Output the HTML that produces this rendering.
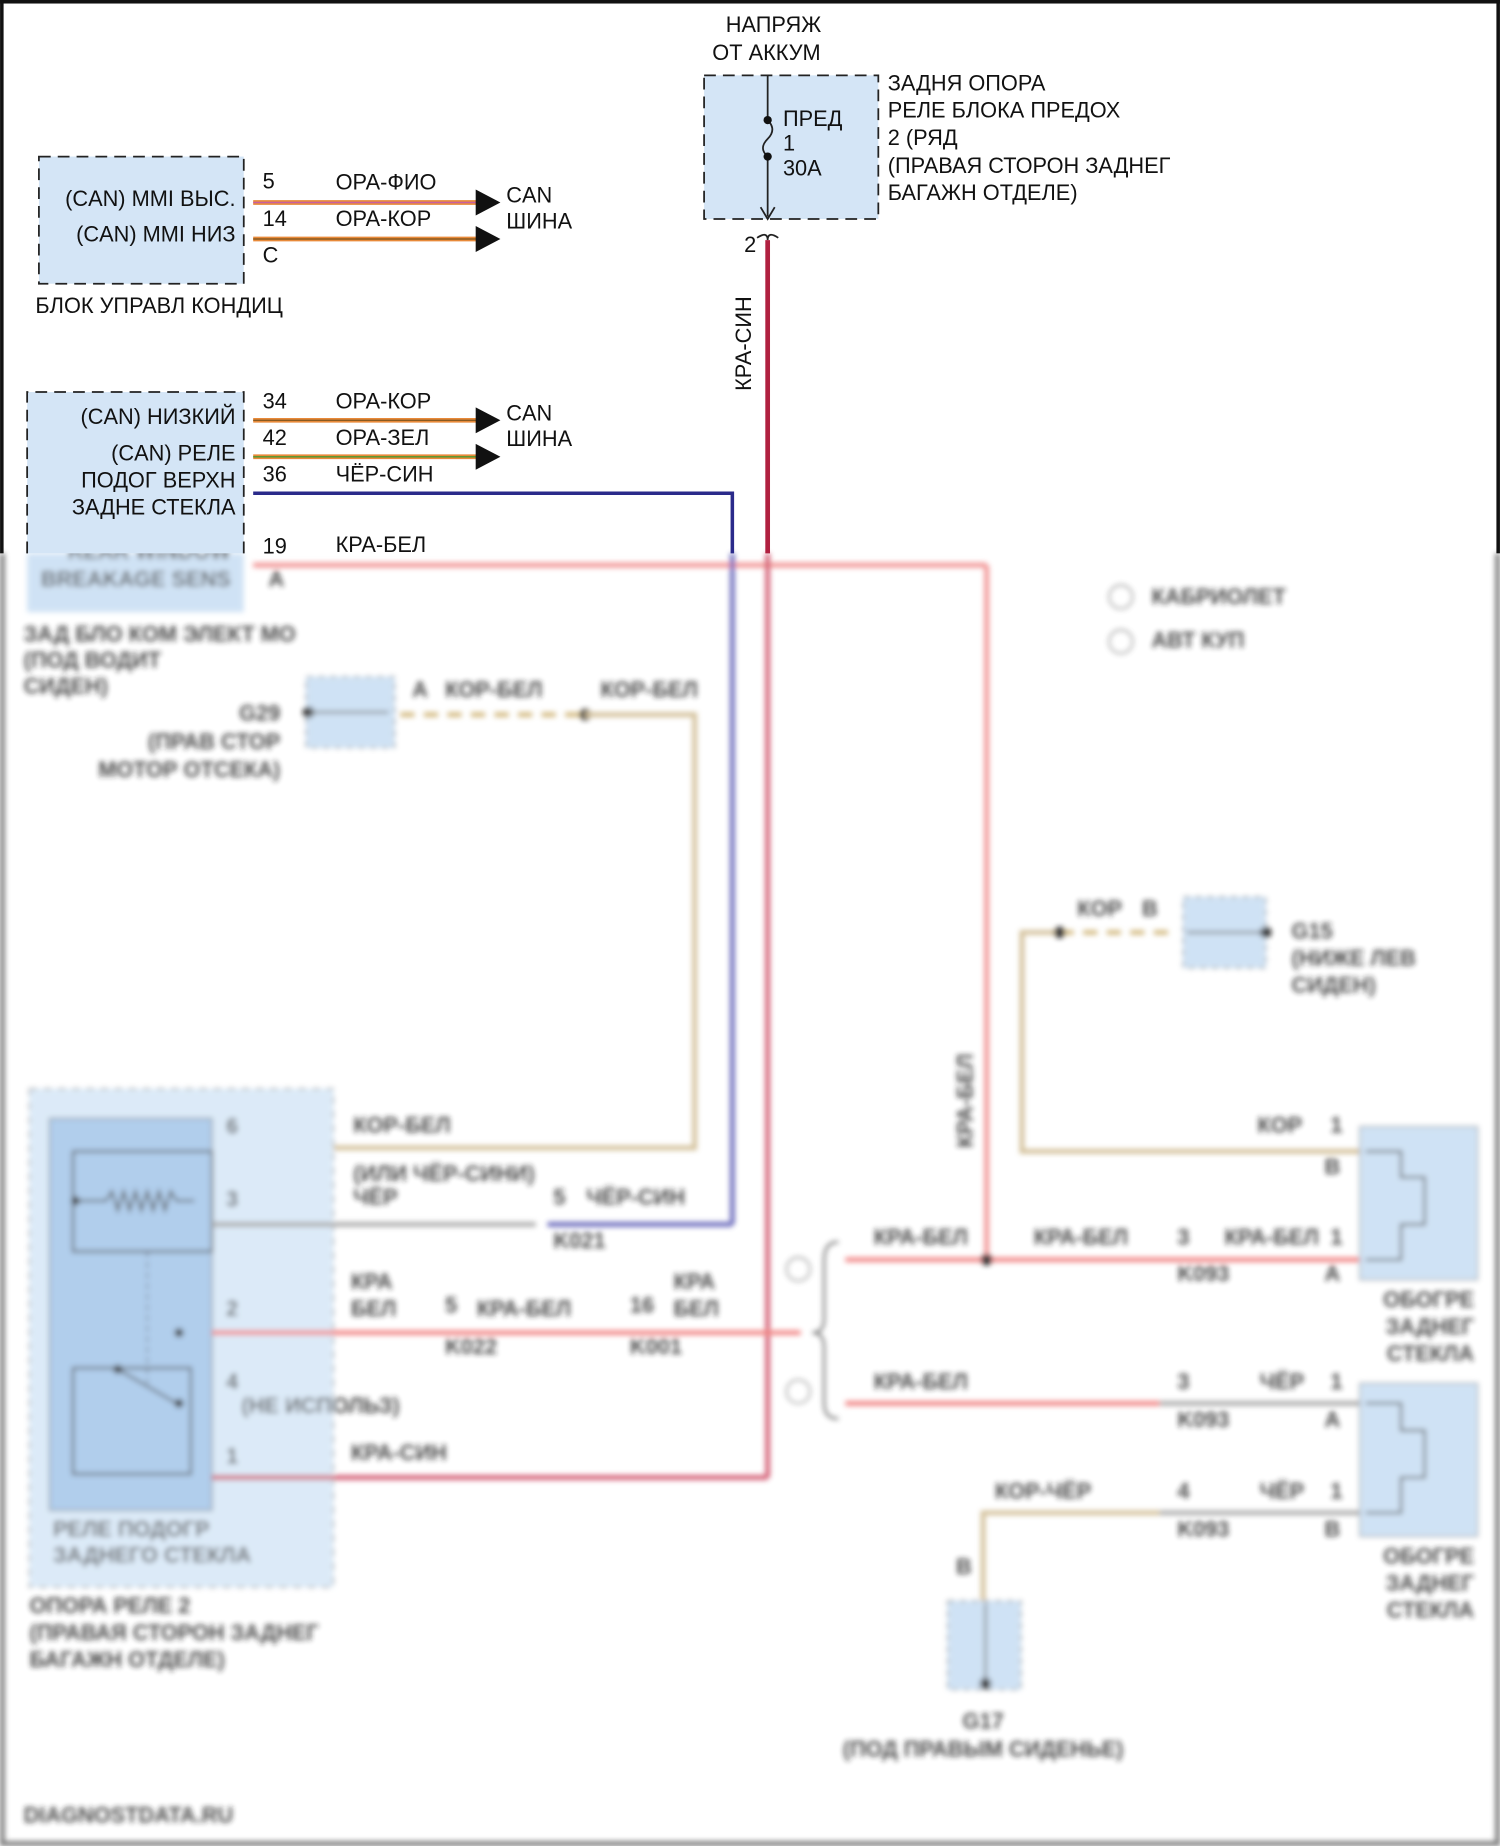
<!DOCTYPE html>
<html><head><meta charset="utf-8"><style>
html,body{margin:0;padding:0;background:#fff}
svg{display:block}
text{font-family:"Liberation Sans",sans-serif;font-size:18.5px;fill:#111}
.b text{fill:#222;font-weight:bold}
</style></head><body>
<svg width="1500" height="1846" viewBox="0 0 1274 1568" xmlns="http://www.w3.org/2000/svg">
<defs>
<filter id="bl" x="-5%" y="-5%" width="110%" height="110%"><feGaussianBlur stdDeviation="2.2"/></filter>
</defs>
<rect x="0" y="0" width="1274" height="1568" fill="#fff"/>
<g class="b" filter="url(#bl)" opacity="0.8">
<rect x="23" y="470" width="184" height="50" fill="#c4dcf3"/>
<text x="196" y="475" text-anchor="end" font-size="17">REAR WINDOW</text>
<text x="196" y="498" text-anchor="end" font-size="17">BREAKAGE SENS</text>
<text x="228" y="498" font-size="14">A</text>
<text x="20" y="545" font-size="15">ЗАД БЛО КОМ ЭЛЕКТ МО</text>
<text x="20" y="567" font-size="15">(ПОД ВОДИТ</text>
<text x="20" y="589" font-size="15">СИДЕН)</text>
<line x1="215" y1="480" x2="838" y2="480" stroke="#ee7777" stroke-width="4"/>
<line x1="838" y1="480" x2="838" y2="1070" stroke="#ee7777" stroke-width="4"/>
<line x1="622" y1="470" x2="622" y2="1040" stroke="#4444aa" stroke-width="4"/>
<line x1="652" y1="470" x2="652" y2="1255" stroke="#c83050" stroke-width="4"/>
<rect x="260" y="575" width="75" height="60" fill="#c4dcf3" stroke="#555" stroke-dasharray="6 4"/>
<circle cx="262" cy="605" r="5" fill="#111"/><line x1="262" y1="605" x2="330" y2="605" stroke="#555" stroke-width="2"/>
<text x="238" y="612" text-anchor="end" font-size="15">G29</text>
<text x="238" y="636" text-anchor="end" font-size="15">(ПРАВ СТОР</text>
<text x="238" y="660" text-anchor="end" font-size="15">МОТОР ОТСЕКА)</text>
<line x1="340" y1="607" x2="497" y2="607" stroke="#c8a860" stroke-width="4" stroke-dasharray="12 8"/>
<circle cx="497" cy="607" r="5" fill="#111"/>
<polyline points="497,607 590,607 590,975 180,975" fill="none" stroke="#c8b080" stroke-width="4"/>
<text x="378" y="592" font-size="15">КОР-БЕЛ</text><text x="510" y="592" font-size="15">КОР-БЕЛ</text>
<text x="350" y="592" font-size="14">A</text>
<text x="978" y="513" font-size="15">КАБРИОЛЕТ</text><circle cx="952" cy="507" r="10" fill="none" stroke="#555"/>
<text x="978" y="550" font-size="15">АВТ КУП</text><circle cx="952" cy="545" r="10" fill="none" stroke="#555"/>
<rect x="25" y="925" width="258" height="423" fill="#d4e6f7" stroke="#666" stroke-dasharray="7 5"/>
<rect x="42" y="950" width="138" height="333" fill="#9ec2e8" stroke="#555"/>
<rect x="62" y="978" width="118" height="85" fill="none" stroke="#333" stroke-width="2"/>
<circle cx="64" cy="1020" r="4" fill="#111"/>
<polyline points="64,1020 90,1020 95,1012 100,1028 105,1012 110,1028 115,1012 120,1028 125,1012 130,1028 135,1012 140,1028 145,1012 150,1020 165,1020" fill="none" stroke="#333" stroke-width="2"/>
<rect x="62" y="1162" width="100" height="90" fill="none" stroke="#333" stroke-width="2"/>
<line x1="100" y1="1163" x2="150" y2="1192" stroke="#333" stroke-width="2"/>
<circle cx="100" cy="1163" r="4" fill="#111"/><circle cx="152" cy="1132" r="4" fill="#111"/><circle cx="152" cy="1192" r="4" fill="#111"/>
<line x1="125" y1="1063" x2="125" y2="1175" stroke="#333" stroke-dasharray="5 4"/>
<text x="45" y="1305" font-size="15">РЕЛЕ ПОДОГР</text><text x="45" y="1327" font-size="15">ЗАДНЕГО СТЕКЛА</text>
<text x="25" y="1370" font-size="15">ОПОРА РЕЛЕ 2</text>
<text x="25" y="1393" font-size="15">(ПРАВАЯ СТОРОН ЗАДНЕГ</text>
<text x="25" y="1416" font-size="15">БАГАЖН ОТДЕЛЕ)</text>
<text x="192" y="963" font-size="14">6</text><text x="192" y="1025" font-size="14">3</text>
<text x="192" y="1118" font-size="14">2</text><text x="192" y="1180" font-size="14">4</text><text x="192" y="1243" font-size="14">1</text>
<line x1="180" y1="1040" x2="455" y2="1040" stroke="#999" stroke-width="4"/>
<line x1="465" y1="1040" x2="622" y2="1040" stroke="#4444aa" stroke-width="4"/>
<line x1="180" y1="1132" x2="680" y2="1132" stroke="#ee6666" stroke-width="4"/>
<line x1="180" y1="1255" x2="652" y2="1255" stroke="#c83050" stroke-width="4"/>
<text x="300" y="962" font-size="15">КОР-БЕЛ</text>
<text x="300" y="1003" font-size="15">(ИЛИ ЧЁР-СИНИ)</text><text x="300" y="1023" font-size="15">ЧЁР</text>
<text x="470" y="1023" font-size="14">5</text><text x="498" y="1023" font-size="15">ЧЁР-СИН</text><text x="470" y="1060" font-size="14">K021</text>
<text x="298" y="1095" font-size="15">КРА</text><text x="298" y="1118" font-size="15">БЕЛ</text>
<text x="378" y="1115" font-size="14">5</text><text x="405" y="1118" font-size="15">КРА-БЕЛ</text><text x="378" y="1150" font-size="14">K022</text>
<text x="535" y="1115" font-size="14">16</text><text x="535" y="1150" font-size="14">K001</text>
<text x="572" y="1095" font-size="15">КРА</text><text x="572" y="1118" font-size="15">БЕЛ</text>
<text x="205" y="1200" font-size="15">(НЕ ИСПОЛЬЗ)</text>
<text x="298" y="1240" font-size="15">КРА-СИН</text>
<path d="M712 1055 Q700 1055 700 1070 L700 1120 Q700 1132 690 1132 Q700 1132 700 1145 L700 1192 Q700 1205 712 1205" fill="none" stroke="#555" stroke-width="2"/>
<circle cx="678" cy="1078" r="10" fill="none" stroke="#555"/><circle cx="678" cy="1182" r="10" fill="none" stroke="#555"/>
<line x1="718" y1="1070" x2="1160" y2="1070" stroke="#ee6666" stroke-width="4"/>
<circle cx="838" cy="1070" r="5" fill="#111"/>
<line x1="718" y1="1192" x2="985" y2="1192" stroke="#ee6666" stroke-width="4"/>
<line x1="985" y1="1192" x2="1160" y2="1192" stroke="#999" stroke-width="4"/>
<polyline points="900,792 868,792 868,978 1160,978" fill="none" stroke="#c8b080" stroke-width="4"/>
<line x1="900" y1="792" x2="1000" y2="792" stroke="#c8a860" stroke-width="4" stroke-dasharray="12 8"/>
<circle cx="900" cy="792" r="5" fill="#111"/>
<rect x="1005" y="762" width="70" height="60" fill="#c4dcf3" stroke="#555" stroke-dasharray="6 4"/>
<line x1="1008" y1="792" x2="1075" y2="792" stroke="#555" stroke-width="2"/><circle cx="1075" cy="792" r="5" fill="#111"/>
<text x="915" y="778" font-size="15">КОР</text><text x="970" y="778" font-size="14">B</text>
<text x="1097" y="797" font-size="15">G15</text><text x="1097" y="820" font-size="15">(НИЖЕ ЛЕВ</text><text x="1097" y="843" font-size="15">СИДЕН)</text>
<text x="826" y="975" font-size="15" transform="rotate(-90 826 975)">КРА-БЕЛ</text>
<polyline points="985,1285 835,1285 835,1360" fill="none" stroke="#c8b080" stroke-width="4"/>
<line x1="985" y1="1285" x2="1160" y2="1285" stroke="#999" stroke-width="4"/>
<rect x="805" y="1360" width="62" height="75" fill="#c4dcf3" stroke="#555" stroke-dasharray="6 4"/>
<line x1="837" y1="1362" x2="837" y2="1430" stroke="#555" stroke-width="2"/><circle cx="837" cy="1430" r="5" fill="#111"/>
<text x="812" y="1337" font-size="14">B</text>
<text x="835" y="1468" font-size="15" text-anchor="middle">G17</text>
<text x="835" y="1492" font-size="15" text-anchor="middle">(ПОД ПРАВЫМ СИДЕНЬЕ)</text>
<text x="1068" y="962" font-size="15">КОР</text><text x="1130" y="962" font-size="14">1</text><text x="1125" y="997" font-size="14">B</text>
<text x="742" y="1057" font-size="15">КРА-БЕЛ</text><text x="878" y="1057" font-size="15">КРА-БЕЛ</text>
<text x="1000" y="1057" font-size="14">3</text><text x="1040" y="1057" font-size="15">КРА-БЕЛ</text><text x="1130" y="1057" font-size="14">1</text>
<text x="1000" y="1088" font-size="14">K093</text><text x="1125" y="1088" font-size="14">A</text>
<text x="742" y="1180" font-size="15">КРА-БЕЛ</text><text x="1000" y="1180" font-size="14">3</text><text x="1070" y="1180" font-size="15">ЧЁР</text><text x="1130" y="1180" font-size="14">1</text>
<text x="1000" y="1212" font-size="14">K093</text><text x="1125" y="1212" font-size="14">A</text>
<text x="845" y="1273" font-size="15">КОР-ЧЁР</text><text x="1000" y="1273" font-size="14">4</text><text x="1070" y="1273" font-size="15">ЧЁР</text><text x="1130" y="1273" font-size="14">1</text>
<text x="1000" y="1305" font-size="14">K093</text><text x="1125" y="1305" font-size="14">B</text>
<rect x="1155" y="957" width="100" height="130" fill="#c4dcf3" stroke="#777"/>
<rect x="1155" y="1175" width="100" height="130" fill="#c4dcf3" stroke="#777"/>
<polyline points="1160,978 1190,978 1190,1000 1210,1000 1210,1040 1190,1040 1190,1070 1160,1070" fill="none" stroke="#333" stroke-width="2"/>
<polyline points="1160,1192 1190,1192 1190,1215 1210,1215 1210,1255 1190,1255 1190,1285 1160,1285" fill="none" stroke="#333" stroke-width="2"/>
<text x="1252" y="1110" font-size="15" text-anchor="end">ОБОГРЕ</text><text x="1252" y="1133" font-size="15" text-anchor="end">ЗАДНЕГ</text><text x="1252" y="1156" font-size="15" text-anchor="end">СТЕКЛА</text>
<text x="1252" y="1328" font-size="15" text-anchor="end">ОБОГРЕ</text><text x="1252" y="1351" font-size="15" text-anchor="end">ЗАДНЕГ</text><text x="1252" y="1374" font-size="15" text-anchor="end">СТЕКЛА</text>
<text x="20" y="1548" font-size="14">DIAGNOSTDATA.RU</text>
<line x1="2" y1="470" x2="2" y2="1568" stroke="#555" stroke-width="4"/>
<line x1="1272" y1="470" x2="1272" y2="1568" stroke="#555" stroke-width="4"/>
<line x1="0" y1="1566" x2="1274" y2="1566" stroke="#555" stroke-width="4"/>
</g>
<g>
<rect x="0" y="0" width="1274" height="3" fill="#111"/>
<rect x="0" y="0" width="3" height="470" fill="#111"/>
<rect x="1271" y="0" width="3" height="470" fill="#111"/>
<rect x="33" y="133" width="174" height="108" fill="#d4e5f6" stroke="#222" stroke-dasharray="10 6" stroke-width="1.5"/>
<text x="200" y="175" text-anchor="end">(CAN) MMI ВЫС.</text>
<text x="200" y="205" text-anchor="end">(CAN) MMI НИЗ</text>
<text x="223" y="160" font-size="16">5</text><text x="223" y="192" font-size="16">14</text><text x="223" y="223" font-size="16">C</text>
<line x1="215" y1="172" x2="410" y2="172" stroke="#e88a3a" stroke-width="4"/>
<line x1="215" y1="172" x2="410" y2="172" stroke="#c860a0" stroke-width="1.2"/>
<line x1="215" y1="203" x2="410" y2="203" stroke="#e88a3a" stroke-width="4"/>
<line x1="215" y1="203" x2="410" y2="203" stroke="#8a5a20" stroke-width="1.2"/>
<polygon points="404,161 425,172 404,183" fill="#111"/>
<polygon points="404,192 425,203 404,214" fill="#111"/>
<text x="285" y="161">ОРА-ФИО</text><text x="285" y="192">ОРА-КОР</text>
<text x="430" y="172">CAN</text><text x="430" y="194">ШИНА</text>
<text x="30" y="266">БЛОК УПРАВЛ КОНДИЦ</text>
<rect x="23" y="333" width="184" height="137" fill="#d4e5f6"/>
<path d="M23 470 L23 333 L207 333 L207 470" fill="none" stroke="#222" stroke-dasharray="10 6" stroke-width="1.5"/>
<text x="200" y="360" text-anchor="end">(CAN) НИЗКИЙ</text>
<text x="200" y="391" text-anchor="end">(CAN) РЕЛЕ</text>
<text x="200" y="414" text-anchor="end">ПОДОГ ВЕРХН</text>
<text x="200" y="437" text-anchor="end">ЗАДНЕ СТЕКЛА</text>
<text x="223" y="347" font-size="16">34</text><text x="223" y="378" font-size="16">42</text><text x="223" y="409" font-size="16">36</text><text x="223" y="470" font-size="16">19</text>
<line x1="215" y1="357" x2="410" y2="357" stroke="#e88a3a" stroke-width="4"/>
<line x1="215" y1="357" x2="410" y2="357" stroke="#8a5a20" stroke-width="1.2"/>
<line x1="215" y1="388" x2="410" y2="388" stroke="#e88a3a" stroke-width="4"/>
<line x1="215" y1="388" x2="410" y2="388" stroke="#4a9a30" stroke-width="1.2"/>
<polygon points="404,346 425,357 404,368" fill="#111"/>
<polygon points="404,377 425,388 404,399" fill="#111"/>
<polyline points="215,419 622,419 622,470" fill="none" stroke="#2a2a8a" stroke-width="3"/>
<text x="285" y="347">ОРА-КОР</text><text x="285" y="378">ОРА-ЗЕЛ</text><text x="285" y="409">ЧЁР-СИН</text><text x="285" y="469">КРА-БЕЛ</text>
<text x="430" y="357">CAN</text><text x="430" y="379">ШИНА</text>
<rect x="598" y="64" width="148" height="122" fill="#d4e5f6" stroke="#222" stroke-dasharray="10 6" stroke-width="1.5"/>
<line x1="652" y1="64" x2="652" y2="102" stroke="#222" stroke-width="1.5"/>
<path d="M652 102 Q660 110 652 118 Q644 126 652 133" fill="none" stroke="#222" stroke-width="1.5"/>
<line x1="652" y1="133" x2="652" y2="184" stroke="#222" stroke-width="1.5"/>
<polyline points="646,176 652,186 658,176" fill="none" stroke="#222" stroke-width="1.5"/>
<circle cx="652" cy="102" r="3.5" fill="#111"/><circle cx="652" cy="133" r="3.5" fill="#111"/>
<text x="665" y="107">ПРЕД</text><text x="665" y="128">1</text><text x="665" y="149">30A</text>
<text x="657" y="27" text-anchor="middle">НАПРЯЖ</text>
<text x="651" y="51" text-anchor="middle">ОТ АККУМ</text>
<text x="754" y="77">ЗАДНЯ ОПОРА</text>
<text x="754" y="100">РЕЛЕ БЛОКА ПРЕДОХ</text>
<text x="754" y="123">2 (РЯД</text>
<text x="754" y="147">(ПРАВАЯ СТОРОН ЗАДНЕГ</text>
<text x="754" y="170">БАГАЖН ОТДЕЛЕ)</text>
<text x="632" y="214" font-size="16">2</text>
<path d="M643 202 Q652 196 652 204 Q652 196 661 202" fill="none" stroke="#222" stroke-width="1.5"/>
<line x1="652" y1="204" x2="652" y2="470" stroke="#b02040" stroke-width="4"/>
<text x="638" y="332" transform="rotate(-90 638 332)">КРА-СИН</text>
</g>
</svg>
</body></html>
